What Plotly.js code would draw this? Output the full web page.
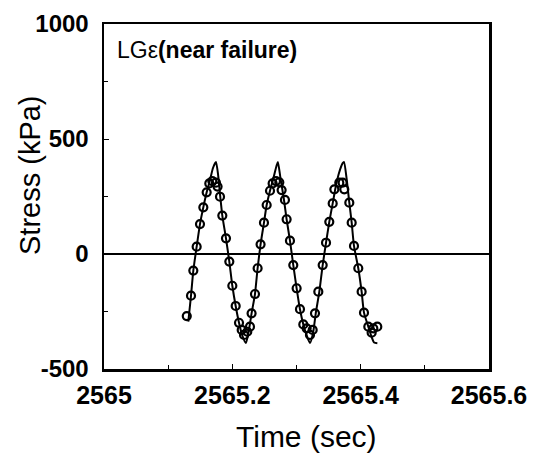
<!DOCTYPE html>
<html>
<head>
<meta charset="utf-8">
<script src="https://cdn.plot.ly/plotly-3.0.1.min.js"></script>
<style>html,body{margin:0;padding:0;background:#fff;}#chart{width:536px;height:458px;}</style>
</head>
<body>
<div id="chart"></div>
<script>
// Solid line (stress history)
const lineTime = [2565.1314,2565.1356,2565.1392,2565.1444,2565.1496,2565.1548,2565.1600,2565.1650,2565.1700,2565.1745,2565.1780,2565.1808,2565.1844,2565.1901,2565.1953,2565.2000,2565.2052,2565.2104,2565.2150,2565.2210,2565.2250,2565.2300,2565.2353,2565.2394,2565.2440,2565.2493,2565.2535,2565.2587,2565.2640,2565.2690,2565.2710,2565.2750,2565.2800,2565.2846,2565.2898,2565.2950,2565.3002,2565.3054,2565.3106,2565.3160,2565.3210,2565.3260,2565.3300,2565.3356,2565.3408,2565.3460,2565.3511,2565.3564,2565.3610,2565.3660,2565.3720,2565.3740,2565.3780,2565.3823,2565.3860,2565.3896,2565.3963,2565.4015,2565.4052,2565.4119,2565.4170,2565.4210,2565.4260];
const lineStress = [-294,-181,-72,32,130,203,268,320,375,400,340,260,167,68,-33,-138,-226,-299,-350,-387,-345,-258,-174,-62,42,136,213,275,330,385,400,330,245,151,58,-48,-149,-240,-306,-355,-387,-340,-258,-164,-48,49,140,220,290,350,395,400,330,223,136,35,-62,-164,-255,-316,-360,-385,-388];

// Open markers (measured points)
const pointTime = [2565.1290,2565.1356,2565.1392,2565.1444,2565.1496,2565.1548,2565.1600,2565.1641,2565.1688,2565.1745,2565.1770,2565.1808,2565.1844,2565.1901,2565.1953,2565.2000,2565.2052,2565.2104,2565.2146,2565.2182,2565.2233,2565.2275,2565.2300,2565.2353,2565.2394,2565.2440,2565.2493,2565.2535,2565.2587,2565.2628,2565.2680,2565.2732,2565.2768,2565.2820,2565.2846,2565.2898,2565.2950,2565.3002,2565.3054,2565.3106,2565.3158,2565.3210,2565.3252,2565.3288,2565.3340,2565.3408,2565.3460,2565.3511,2565.3564,2565.3590,2565.3667,2565.3719,2565.3745,2565.3823,2565.3860,2565.3896,2565.3963,2565.4015,2565.4052,2565.4119,2565.4171,2565.4197,2565.4259];
const pointStress = [-270,-181,-72,32,130,203,268,307,317,310,293,249,167,68,-33,-138,-226,-299,-330,-352,-338,-316,-258,-174,-62,42,136,213,275,307,317,312,278,235,151,58,-48,-149,-240,-306,-323,-352,-330,-258,-164,-48,49,140,220,281,310,310,281,223,136,35,-62,-164,-255,-316,-342,-323,-316];

const xTicks = [2565, 2565.2, 2565.4, 2565.6];
const xTickText = ['2565', '2565.2', '2565.4', '2565.6'];
const yTicks = [-500, 0, 500, 1000];
const yTickText = ['-500', '0', '500', '1000'];

const FONT = 'Liberation Sans, Arial, Helvetica, sans-serif';
const PL = 104, PR = 489, PT = 24, PB = 369;
const pw = PR - PL, ph = PB - PT;

const traces = [
  {
    x: lineTime, y: lineStress, type: 'scatter', mode: 'lines',
    line: {color: '#000', width: 2, shape: 'spline', smoothing: 0.6},
    hoverinfo: 'skip', showlegend: false
  },
  {
    x: pointTime, y: pointStress, type: 'scatter', mode: 'markers',
    marker: {symbol: 'circle-open', size: 8, color: '#000', line: {color: '#000', width: 2.2}},
    showlegend: false
  }
];

const layout = {
  width: 536, height: 458,
  margin: {l: PL, r: 536 - PR, t: PT, b: 458 - PB},
  paper_bgcolor: '#fff', plot_bgcolor: '#fff',
  font: {family: FONT, color: '#000'},
  showlegend: false,
  xaxis: {
    range: [2565, 2565.6],
    tickvals: xTicks, ticktext: xTickText,
    ticks: 'inside', ticklen: 5, tickwidth: 1, tickcolor: '#000',
    minor: {dtick: 0.1, tick0: 2565, ticks: 'inside', ticklen: 4, tickcolor: '#000', showgrid: false},
    showline: true, linecolor: '#000', linewidth: 2.5, mirror: true,
    showgrid: false, zeroline: false,
    ticklabelstandoff: 2,
    tickfont: {family: FONT, size: 25, color: '#000', weight: 'bold'}
  },
  yaxis: {
    range: [-500, 1000],
    tickvals: yTicks, ticktext: yTickText,
    ticks: 'inside', ticklen: 5, tickwidth: 1, tickcolor: '#000',
    minor: {dtick: 250, tick0: 0, ticks: 'inside', ticklen: 4, tickcolor: '#000', showgrid: false},
    showline: true, linecolor: '#000', linewidth: 2.5, mirror: true,
    showgrid: false,
    zeroline: true, zerolinecolor: '#000', zerolinewidth: 2.5,
    ticklabelstandoff: 8,
    tickfont: {family: FONT, size: 24, color: '#000', weight: 'bold'}
  },
  annotations: [
    {
      xref: 'paper', yref: 'paper', x: (115 - PL) / pw, y: (PB - 50) / ph, xanchor: 'left', yanchor: 'middle',
      showarrow: false,
      text: 'LGε<b>(near failure)</b>',
      font: {family: FONT, size: 23, color: '#000'}
    },
    {
      xref: 'paper', yref: 'paper', x: (306 - PL) / pw, y: (PB - 436) / ph, xanchor: 'center', yanchor: 'middle',
      showarrow: false,
      text: 'Time (sec)',
      font: {family: FONT, size: 30, color: '#000'}
    },
    {
      xref: 'paper', yref: 'paper', x: (30 - PL) / pw, y: (PB - 175) / ph, xanchor: 'center', yanchor: 'middle',
      showarrow: false, textangle: -90,
      text: 'Stress (kPa)',
      font: {family: FONT, size: 29, color: '#000'}
    }
  ]
};

Plotly.newPlot('chart', traces, layout, {staticPlot: true, displayModeBar: false});
</script>
</body>
</html>
